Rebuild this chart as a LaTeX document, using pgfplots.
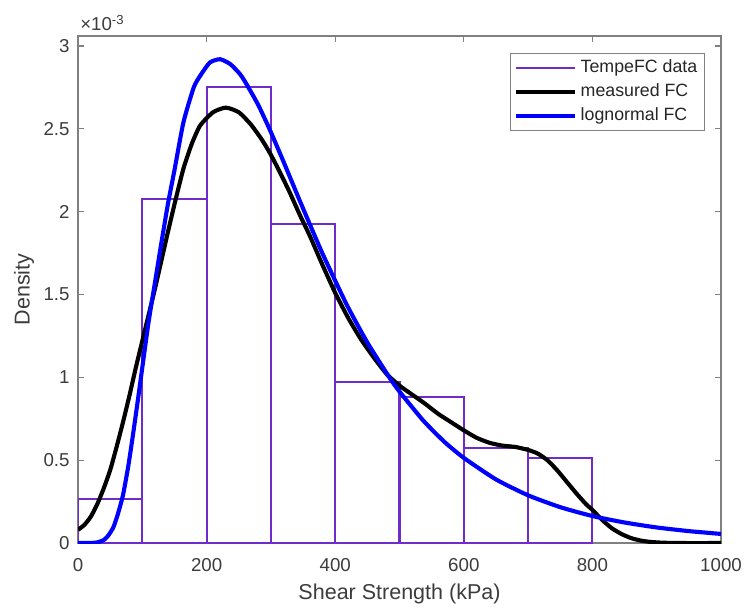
\documentclass[border=0pt]{standalone}
\usepackage{fontspec}
\setmainfont{Liberation Sans}
\usepackage{pgfplots}
\pgfplotsset{compat=1.18}
\definecolor{histc}{RGB}{112,44,200}
\definecolor{axgray}{RGB}{128,128,128}
\definecolor{txtgray}{RGB}{60,60,60}
\definecolor{fitblue}{RGB}{0,0,255}

\begin{document}
\begin{tikzpicture}
\useasboundingbox (-1.466cm,-1.259cm) rectangle (12.534cm,10.205cm);
\begin{axis}[
    name=ax,
    at={(0,0)}, anchor=south west,
    scale only axis,
    width=12.083cm, height=9.528cm,
    xmin=0, xmax=1000,
    ymin=0, ymax=3.06,
    xtick={0,200,400,600,800,1000},
    ytick={0,0.5,1,1.5,2,2.5,3},
    yticklabels={0,0.5,1,1.5,2,2.5,3},
    tick align=inside,
    major tick length=3.4pt,
    minor tick num=0,
    axis line style={axgray, line width=0.6pt},
    every tick/.style={axgray, line width=0.6pt},
    /pgf/number format/assume math mode=true,
    /pgf/number format/1000 sep={},
    ticklabel style={font=\fontsize{10}{12}\selectfont, text=txtgray},
    xticklabel style={yshift=-4.5pt},
    yticklabel style={xshift=-1pt},
    xlabel={Shear Strength (kPa)},
    ylabel={Density},
    label style={font=\fontsize{11.5}{13}\selectfont, text=txtgray},
    xlabel style={at={(axis description cs:0.5,-0.1006)}, anchor=center},
    ylabel style={at={(axis description cs:-0.084,0.5)}, anchor=center},
    legend style={at={(0.9751,0.9665)}, anchor=north east,
        draw=axgray, line width=0.5pt, fill=white,
        font=\fontsize{9.5}{11}\selectfont, text=black!85,
        inner xsep=2pt, inner ysep=1.5pt,
        nodes={inner sep=1.9pt, text height=7pt, text depth=2pt}},
    legend cell align=left,
    legend image code/.code={\draw[#1] (0pt,0pt) -- (31.6pt,0pt);},
]
% legend entries in MATLAB order
\addlegendimage{histc, line width=0.8pt}
\addlegendentry{TempeFC data}
\addlegendimage{black, line width=2.2pt}
\addlegendentry{measured FC}
\addlegendimage{fitblue, line width=2.2pt}
\addlegendentry{lognormal FC}

% histogram (density x 1e-3), bin width 100 kPa
\addplot[ybar interval, draw=histc, fill=none, line width=1.1pt, forget plot] coordinates {
  (0,0.266) (100,2.076) (200,2.752) (300,1.926) (400,0.974)
  (500,0.882) (600,0.576) (700,0.514) (800,0)
};

% measured FC (kernel density)
\addplot[black, line width=2.2pt, smooth, tension=0.35, forget plot] coordinates {
  (0,0.08) (10,0.11) (20,0.16) (30,0.235) (40,0.33) (50,0.44) (60,0.58)
  (70,0.73) (80,0.89) (90,1.06) (100,1.22) (110,1.38) (120,1.54)
  (130,1.71) (140,1.88) (151,2.06) (164,2.26) (177,2.41) (190,2.52)
  (210,2.60) (230,2.628) (250,2.60) (268,2.53) (285,2.44) (299,2.35)
  (315,2.23) (330,2.11) (345,1.98) (361,1.85) (380,1.68) (400,1.51)
  (420,1.36) (440,1.23) (460,1.12) (480,1.02) (500,0.95) (520,0.895)
  (540,0.84) (560,0.78) (580,0.73) (600,0.68) (620,0.635) (640,0.605)
  (660,0.588) (680,0.580) (700,0.562) (715,0.54) (730,0.50) (745,0.44)
  (760,0.37) (775,0.30) (790,0.235) (800,0.20) (815,0.14) (830,0.09)
  (845,0.055) (860,0.03) (875,0.015) (890,0.007) (910,0.002) (940,0)
  (1000,0)
};

% lognormal FC
\addplot[fitblue, line width=2.2pt, smooth, tension=0.35, forget plot] coordinates {
  (0,0) (20,0.0005) (30,0.004) (40,0.018) (47,0.045) (55,0.095) (62,0.175)
  (70,0.29) (78,0.46) (85,0.64) (93,0.86) (100,1.06) (110,1.34) (120,1.58)
  (130,1.82) (140,2.05) (150,2.25) (164,2.54) (180,2.75) (190,2.82)
  (205,2.90) (221,2.92) (237,2.89) (252,2.83) (262,2.77) (280,2.646)
  (298,2.497) (320,2.298) (345,2.065) (380,1.749) (418,1.438) (450,1.21)
  (485,0.995) (500,0.914) (537,0.739) (570,0.61) (600,0.514) (650,0.384)
  (700,0.288) (750,0.2165) (800,0.163) (850,0.124) (900,0.094) (950,0.072)
  (1000,0.055)
};
\end{axis}
\node[anchor=base west, inner sep=0pt, xshift=1pt, yshift=2.7pt,
      font=\fontsize{10}{12}\selectfont, text=txtgray]
  at (ax.north west) {×10\textsuperscript{-3}};
\end{tikzpicture}
\end{document}
